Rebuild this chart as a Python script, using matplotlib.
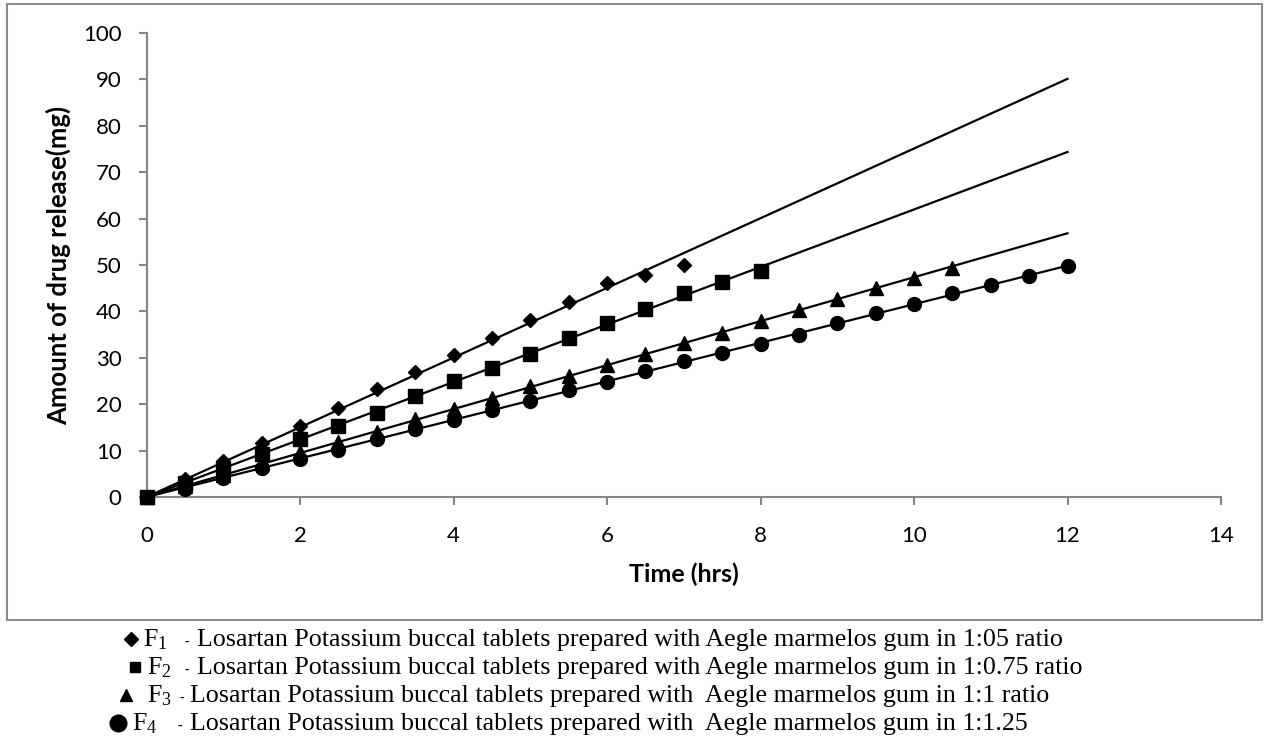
import numpy as np
import matplotlib
matplotlib.use("Agg")
import matplotlib.pyplot as plt
from matplotlib.lines import Line2D
from matplotlib.patches import Rectangle

plt.rcParams['mathtext.fontset'] = 'custom'
plt.rcParams['mathtext.rm'] = 'Liberation Serif'
plt.rcParams['mathtext.it'] = 'Liberation Serif'

# time points (hrs) and amount released (mg)
t_f1 = np.arange(0, 7.01, 0.5)
f1 = [0, 3.8, 7.8, 11.6, 15.3, 19.1, 23.2, 26.9, 30.6, 34.3, 38.2, 42.1, 46.2, 47.8, 49.9]
t_f2 = np.arange(0, 8.01, 0.5)
f2 = [0, 3.0, 6.2, 9.2, 12.6, 15.3, 18.2, 21.8, 24.9, 27.9, 30.9, 34.3, 37.4, 40.5, 43.9,
      46.4, 48.8]
t_f3 = np.arange(0, 10.51, 0.5)
f3 = [0, 2.4, 4.8, 7.3, 9.7, 11.9, 14.1, 16.8, 19.0, 21.3, 23.9, 26.1, 28.5, 30.8, 33.1,
      35.4, 37.9, 40.4, 42.7, 45.1, 47.2, 49.4]
t_f4 = np.arange(0, 12.01, 0.5)
f4 = [0, 1.8, 4.0, 6.2, 8.2, 10.1, 12.5, 14.6, 16.5, 18.7, 20.7, 23.0, 24.8, 27.2, 29.3,
      31.1, 33.0, 35.0, 37.4, 39.7, 41.7, 43.9, 45.7, 47.6, 49.8]

markers = ['D', 's', '^', 'o']
msizes = [7, 9.5, 10.5, 10]
trend_end = 12

legend_text = [
    "Losartan Potassium buccal tablets prepared with Aegle marmelos gum in 1:05 ratio",
    "Losartan Potassium buccal tablets prepared with Aegle marmelos gum in 1:0.75 ratio",
    "Losartan Potassium buccal tablets prepared with  Aegle marmelos gum in 1:1 ratio",
    "Losartan Potassium buccal tablets prepared with  Aegle marmelos gum in 1:1.25",
]

W, H = 1265, 744
fig = plt.figure(figsize=(W / 100, H / 100), dpi=100)

def fx(px):
    return px / W

def fy(py):
    return 1 - py / H

# outer chart border
fig.add_artist(Rectangle((fx(7), fy(620)), fx(1262) - fx(7), fy(4) - fy(620),
                         transform=fig.transFigure, fill=False, edgecolor='#8c8c8c', lw=1.5))

ax = fig.add_axes([fx(146.5), fy(497), fx(1221) - fx(146.5), fy(33) - fy(497)])

series = [(t_f1, f1), (t_f2, f2), (t_f3, f3), (t_f4, f4)]
for (t, y), m, ms in zip(series, markers, msizes):
    t = np.asarray(t)
    y = np.asarray(y)
    slope = np.sum(t * y) / np.sum(t * t)  # linear trendline through origin
    xx = np.array([0, trend_end])
    ax.plot(xx, slope * xx, color='black', lw=1.6, zorder=2)
    ax.plot(t, y, linestyle='none', marker=m, markersize=ms, color='black', zorder=3,
            clip_on=False)

ax.set_xlim(0, 14)
ax.set_ylim(0, 100)
ax.set_xticks(np.arange(0, 15, 2))
ax.set_yticks(np.arange(0, 101, 10))
for s in ['top', 'right']:
    ax.spines[s].set_visible(False)
for s in ['left', 'bottom']:
    ax.spines[s].set_color('#868686')
    ax.spines[s].set_linewidth(1.5)
ax.tick_params(direction='out', length=6, width=1.5, color='#868686', labelsize=16)
ax.tick_params(axis='x', pad=15)
ax.tick_params(axis='y', pad=12)
for lab in ax.get_xticklabels() + ax.get_yticklabels():
    lab.set_fontfamily('Lato')

fig.text(fx(58), fy(265), 'Amount of drug release(mg)', rotation=90, ha='center',
         va='center', fontsize=18.5, fontweight='bold', family='Lato')
fig.text(fx(684), fy(574), 'Time (hrs)', ha='center', va='center', fontsize=18,
         fontweight='bold', family='Lato')

# legend written under the chart box
base = [646, 674, 702, 730]
sym_x = [131, 135, 126, 118]
sym_ms = [7, 7, 9, 12]
f_x = [143, 147, 147, 132]
dash_x = [185, 185, 180, 178]
txt_x = [197, 197, 190, 190]
for i in range(4):
    fig.add_artist(Line2D([fx(sym_x[i])], [fy(base[i] - 7)], marker=markers[i],
                          markersize=sym_ms[i], color='black', linestyle='none',
                          transform=fig.transFigure))
    fig.text(fx(f_x[i]), fy(base[i]), 'F$_{%d}$' % (i + 1), family='Liberation Serif',
             fontsize=18.7, va='baseline')
    fig.text(fx(dash_x[i]), fy(base[i]), '-', family='Liberation Serif', fontsize=10,
             va='baseline')
    fig.text(fx(txt_x[i]), fy(base[i]), legend_text[i], family='Liberation Serif',
             fontsize=18.7, va='baseline')

fig.savefig('out.png', dpi=100)
